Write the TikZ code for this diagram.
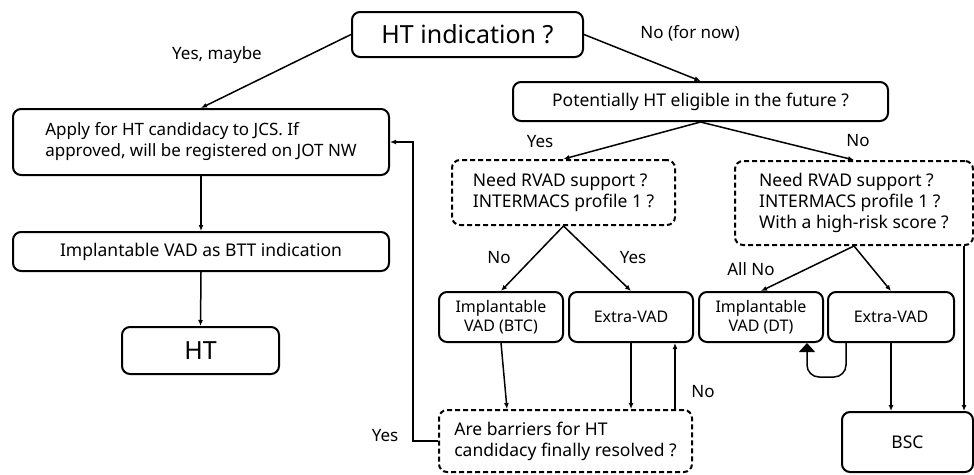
\documentclass[tikz,border=0pt]{standalone}
\usepackage{fontspec}
\setmainfont{Noto Sans}
\usetikzlibrary{arrows.meta}
\begin{document}
\begin{tikzpicture}[x=1pt,y=-1pt,
  box/.style={draw, line width=2pt, rounded corners=8pt, align=center,
    inner sep=0pt, font=\fontsize{17.5}{21}\selectfont},
  dbox/.style={box, align=left, dash pattern=on 5pt off 3pt},
  small/.style={box, font=\fontsize{16}{19}\selectfont},
  big/.style={box, font=\fontsize{25}{28}\selectfont},
  arr/.style={line width=1.5pt, -{Latex[length=6pt,width=5pt]}},
  lbl/.style={font=\fontsize{17}{18}\selectfont, inner sep=0pt}]
\useasboundingbox (0,0) rectangle (974,474);

% decision and process boxes
\node[big, minimum width=231pt, minimum height=45pt] (ind) at (467.5,34.5) {HT indication ?};
\node[box, minimum width=375pt, minimum height=39pt] (pot) at (700.5,101.5) {Potentially HT eligible in the future ?};
\node[box, align=left, minimum width=376pt, minimum height=66pt, font=\fontsize{17}{21}\selectfont] (apply) at (201,142)
  {Apply for HT candidacy to JCS. If\\approved, will be registered on JOT NW};
\node[box, minimum width=376pt, minimum height=39pt] (btt) at (201,251.5) {Implantable VAD as BTT indication};
\node[big, minimum width=157pt, minimum height=47pt] (ht) at (200.5,350.5) {HT};
\node[dbox, minimum width=223pt, minimum height=65pt] (need1) at (563.5,192.5)
  {Need RVAD support ?\\INTERMACS profile 1 ?};
\node[dbox, minimum width=238pt, minimum height=84pt] (need2) at (854,203)
  {Need RVAD support ?\\INTERMACS profile 1 ?\\With a high-risk score ?};
\node[small, minimum width=124pt, minimum height=50pt] (btc) at (501,317) {Implantable\\VAD (BTC)};
\node[small, minimum width=124pt, minimum height=50pt] (ev1) at (631,317) {Extra-VAD};
\node[small, minimum width=124pt, minimum height=50pt] (dt) at (761,317) {Implantable\\VAD (DT)};
\node[small, minimum width=126pt, minimum height=50pt] (ev2) at (891,317) {Extra-VAD};
\node[dbox, minimum width=253pt, minimum height=62pt] (bar) at (565.5,441)
  {Are barriers for HT\\candidacy finally resolved ?};
\node[box, minimum width=131pt, minimum height=60pt] (bsc) at (907.5,442) {BSC};

% connectors
\draw[arr] (ind.west) -- (apply.north);
\draw[arr] (ind.east) -- (pot.north);
\draw[arr] (apply.south) -- (btt.north);
\draw[arr] (btt.south) -- (ht.north);
\draw[arr] (pot.south) -- (need1.north);
\draw[arr] (pot.south) -- (need2.north);
\draw[arr] (need1.south) -- (btc.north);
\draw[arr] (need1.south) -- (ev1.north);
\draw[arr] (need2.south) -- (dt.north);
\draw[arr] (need2.south) -- (ev2.north);
\draw[arr] ([xshift=-10pt]need2.south east) -- ([xshift=-10pt]bsc.north east);
\draw[arr] (ev2.south) -- (ev2.south |- bsc.north);
\draw[line width=1.5pt, rounded corners=12pt, -{Triangle[length=9pt,width=16pt]}]
  ([xshift=-45pt]ev2.south) -- ++(0,34) -| ([xshift=46pt]dt.south);
\draw[arr] (btc.south) -- ([xshift=6pt]btc.south |- bar.north);
\draw[arr] (ev1.south) -- (ev1.south |- bar.north);
\draw[arr] ([xshift=44pt]ev1.south |- bar.north) -- ([xshift=44pt]ev1.south);
\draw[arr] (bar.west) -- ++(-25,0) |- (apply.east);

% branch labels
\node[lbl] (lym) at (217,55) {Yes, maybe};
\node[lbl] (lnn) at (690,33) {No (for now)};
\node[lbl] (ly1) at (540,142) {Yes};
\node[lbl] (ln1) at (858,141) {No};
\node[lbl] (ln2) at (499,258) {No};
\node[lbl] (ly2) at (633,258) {Yes};
\node[lbl] (lan) at (751,269) {All No};
\node[lbl] (ln3) at (703,392) {No};
\node[lbl] (ly3) at (385,436) {Yes};
\end{tikzpicture}
\end{document}
